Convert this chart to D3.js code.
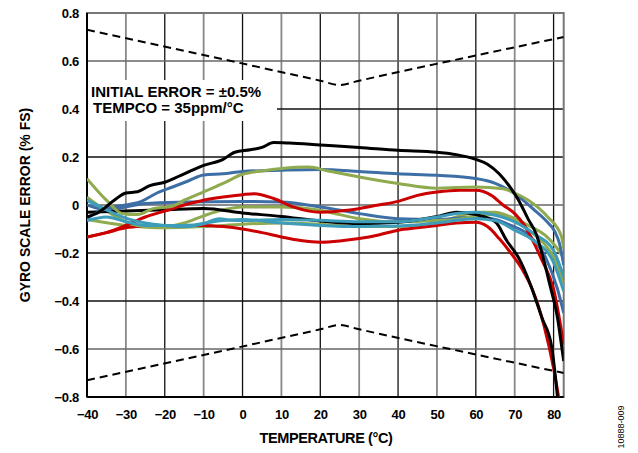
<!DOCTYPE html>
<html>
<head>
<meta charset="UTF-8">
<script src="https://cdnjs.cloudflare.com/ajax/libs/d3/7.8.5/d3.min.js"></script>
<style>
  body { margin: 0; background: #fff; }
  svg text { font-family: "Liberation Sans", Arial, sans-serif; }
</style>
</head>
<body>
<svg id="chart" width="638" height="453"></svg>
<script>
// ticks
const xTicks = [-40, -30, -20, -10, 0, 10, 20, 30, 40, 50, 60, 70, 80];
const yTicks = [-0.8, -0.6, -0.4, -0.2, 0, 0.2, 0.4, 0.6, 0.8];

// spec limits (initial error +/- tempco)
const limitUpper = [[-40, 0.73], [20, 0.518], [25, 0.5], [30, 0.518], [82.6, 0.70]];
const limitLower = [[-40, -0.73], [20, -0.518], [25, -0.5], [30, -0.518], [82.6, -0.70]];

// measured units, [temperature, error %FS]
const black1 = [[-40,-0.05],[-37,-0.03],[-33,0.02],[-30,0.05],[-27,0.055],[-24,0.08],[-20,0.095],[-15,0.13],[-10,0.165],[-5,0.19],[-2,0.22],[2,0.23],[5,0.24],[8,0.26],[12,0.258],[20,0.25],[30,0.24],[40,0.228],[50,0.22],[55,0.21],[60,0.19],[63,0.17],[66,0.13],[69,0.07],[71,0.02],[73.5,-0.06],[75.5,-0.12],[77,-0.2],[79,-0.33],[81,-0.47],[82,-0.58],[82.6,-0.65]];
const black2 = [[-40,-0.03],[-30,-0.025],[-20,-0.02],[-10,-0.015],[0,-0.033],[10,-0.048],[20,-0.067],[30,-0.078],[40,-0.072],[50,-0.048],[55,-0.03],[60,-0.04],[65,-0.07],[68,-0.15],[71,-0.22],[74,-0.33],[77,-0.47],[79.5,-0.59],[81,-0.8]];
const red1 = [[-40,-0.133],[-35,-0.115],[-30,-0.085],[-25,-0.05],[-20,-0.025],[-15,0.0],[-10,0.02],[-5,0.033],[0,0.043],[3,0.047],[8,0.027],[13,-0.008],[20,-0.03],[27,-0.022],[35,0.0],[40,0.015],[45,0.04],[50,0.054],[56,0.061],[60,0.061],[64,0.04],[67,0.0],[70,-0.036],[72.5,-0.085],[75,-0.16],[77,-0.23],[80,-0.35],[82.6,-0.58]];
const red2 = [[-40,-0.133],[-35,-0.115],[-30,-0.095],[-25,-0.088],[-20,-0.085],[-10,-0.085],[-5,-0.09],[0,-0.1],[5,-0.115],[10,-0.133],[15,-0.148],[20,-0.155],[25,-0.15],[30,-0.14],[35,-0.125],[40,-0.105],[45,-0.095],[50,-0.085],[55,-0.075],[60,-0.072],[63,-0.09],[66,-0.14],[69,-0.2],[72,-0.27],[74.5,-0.35],[77.5,-0.5],[80,-0.68],[81.3,-0.8]];
const blue1 = [[-40,-0.055],[-35,-0.014],[-30,0.0],[-26,0.015],[-22,0.05],[-18,0.075],[-14,0.1],[-10,0.125],[-5,0.13],[0,0.14],[10,0.145],[20,0.148],[30,0.14],[40,0.13],[50,0.124],[60,0.11],[65,0.09],[70,0.047],[75,-0.02],[78,-0.065],[80.3,-0.11],[81.5,-0.16],[82.6,-0.25]];
const blue2 = [[-40,0.0],[-35,-0.02],[-30,-0.008],[-25,0.006],[-15,0.012],[0,0.015],[10,0.012],[20,-0.008],[30,-0.036],[40,-0.057],[50,-0.06],[60,-0.05],[65,-0.06],[69,-0.085],[74,-0.13],[78,-0.22],[81,-0.35],[82.6,-0.45]];
const green1 = [[-40,0.11],[-35,0.02],[-31,-0.035],[-27,-0.04],[-23,-0.015],[-18,-0.005],[-15,0.02],[-10,0.055],[-5,0.09],[0,0.128],[5,0.142],[10,0.152],[17,0.158],[22,0.142],[30,0.117],[40,0.09],[50,0.07],[60,0.075],[67,0.068],[70,0.05],[73.5,0.02],[78.5,-0.05],[82,-0.13],[82.6,-0.18]];
const green2 = [[-40,0.033],[-35,-0.025],[-30,-0.07],[-25,-0.09],[-20,-0.09],[-15,-0.075],[-10,-0.045],[-5,-0.02],[0,-0.008],[10,-0.008],[20,-0.022],[25,-0.04],[30,-0.057],[40,-0.07],[50,-0.065],[55,-0.06],[60,-0.045],[65,-0.04],[70,-0.065],[74,-0.11],[78,-0.17],[81,-0.25],[82.6,-0.34]];
const green3 = [[-40,-0.06],[-30,-0.085],[-20,-0.095],[-10,-0.09],[0,-0.08],[10,-0.075],[20,-0.08],[30,-0.09],[40,-0.09],[50,-0.075],[55,-0.05],[60,-0.03],[65,-0.03],[69,-0.05],[73.5,-0.085],[77.8,-0.126],[80.3,-0.168],[82.6,-0.22]];
const cyan1 = [[-40,0.02],[-35,-0.02],[-30,-0.055],[-25,-0.075],[-20,-0.085],[-15,-0.09],[-10,-0.078],[-6,-0.057],[-3,-0.064],[0,-0.065],[10,-0.06],[20,-0.064],[30,-0.07],[40,-0.07],[50,-0.05],[55,-0.035],[60,-0.03],[65,-0.043],[70,-0.07],[75,-0.12],[80,-0.19],[82.6,-0.3]];
const cyan2 = [[-40,-0.065],[-35,-0.05],[-30,-0.07],[-25,-0.085],[-15,-0.085],[-5,-0.065],[0,-0.06],[10,-0.075],[20,-0.085],[30,-0.09],[40,-0.088],[50,-0.075],[60,-0.057],[65,-0.065],[70,-0.105],[75,-0.15],[80,-0.24],[82.6,-0.36]];

const series = [
  { data: green3, color: "#8faa4f" },
  { data: red2, color: "#cc0000" },
  { data: blue2, color: "#3d6ea5" },
  { data: green2, color: "#8faa4f" },
  { data: black2, color: "#000000" },
  { data: red1, color: "#cc0000" },
  { data: blue1, color: "#3d6ea5" },
  { data: green1, color: "#8faa4f" },
  { data: cyan2, color: "#3c9cba" },
  { data: cyan1, color: "#3c9cba" },
  { data: black1, color: "#000000" }
];

const svg = d3.select("#chart");
const plot = { left: 87, right: 563.7, top: 13, bottom: 397 };

const x = d3.scaleLinear().domain([-40, 82.6]).range([plot.left, plot.right]);
const y = d3.scaleLinear().domain([-0.8, 0.8]).range([plot.bottom, plot.top]);

const fmtY = d => d === 0 ? "0" : d3.format(".1f")(d).replace("-", "\u2212");
const fmtX = d => String(d).replace("-", "\u2212");

// grid
const grid = svg.append("g");
grid.selectAll("line.vx")
  .data(xTicks)
  .join("line")
  .attr("x1", d => x(d)).attr("x2", d => x(d))
  .attr("y1", plot.top).attr("y2", plot.bottom)
  .attr("stroke", d => (d / 10) % 2 === 0 ? "#111" : "#888")
  .attr("stroke-width", d => (d / 10) % 2 === 0 ? 1.3 : 1.8);
grid.selectAll("line.hy")
  .data(yTicks)
  .join("line")
  .attr("x1", plot.left).attr("x2", plot.right)
  .attr("y1", d => y(d)).attr("y2", d => y(d))
  .attr("stroke", d => (Math.abs(d) === 0 || Math.abs(d) === 0.6) ? "#666" : "#111")
  .attr("stroke-width", 1.3);

// annotation box
svg.append("rect")
  .attr("x", plot.left + 1).attr("y", 80)
  .attr("width", 189).attr("height", 41)
  .attr("fill", "#fff");
svg.append("text")
  .attr("x", 91).attr("y", 96.5)
  .attr("font-size", 15).attr("font-weight", "bold")
  .text("INITIAL ERROR = \u00b10.5%");
svg.append("text")
  .attr("x", 93).attr("y", 112.5)
  .attr("font-size", 15).attr("font-weight", "bold")
  .text("TEMPCO = 35ppm/\u00b0C");

// frame
svg.append("rect")
  .attr("x", plot.left).attr("y", plot.top)
  .attr("width", plot.right - plot.left).attr("height", plot.bottom - plot.top)
  .attr("fill", "none").attr("stroke", "#777").attr("stroke-width", 2);
svg.append("line")
  .attr("x1", plot.left).attr("x2", plot.left).attr("y1", plot.top).attr("y2", plot.bottom)
  .attr("stroke", "#000").attr("stroke-width", 2);
svg.append("line")
  .attr("x1", plot.left).attr("x2", plot.right).attr("y1", plot.bottom).attr("y2", plot.bottom)
  .attr("stroke", "#000").attr("stroke-width", 2);

const line = d3.line()
  .x(d => x(d[0]))
  .y(d => y(d[1]))
  .curve(d3.curveMonotoneX);

svg.append("clipPath").attr("id", "clip")
  .append("rect")
  .attr("x", plot.left).attr("y", plot.top)
  .attr("width", plot.right - plot.left).attr("height", plot.bottom - plot.top);

const marks = svg.append("g").attr("clip-path", "url(#clip)");

marks.selectAll("path.limit")
  .data([limitUpper, limitLower])
  .join("path")
  .attr("class", "limit")
  .attr("d", line)
  .attr("fill", "none")
  .attr("stroke", "#000")
  .attr("stroke-width", 2)
  .attr("stroke-dasharray", "8,5");

marks.selectAll("path.unit")
  .data(series)
  .join("path")
  .attr("class", "unit")
  .attr("d", d => line(d.data))
  .attr("fill", "none")
  .attr("stroke", d => d.color)
  .attr("stroke-width", 3)
  .attr("stroke-linejoin", "round");

// axes labels
const xAxis = d3.axisBottom(x).tickValues(xTicks).tickSize(0).tickPadding(13).tickFormat(fmtX);
const yAxis = d3.axisLeft(y).tickValues(yTicks).tickSize(0).tickPadding(8).tickFormat(fmtY);

const gx = svg.append("g").attr("transform", `translate(0,${plot.bottom})`).call(xAxis);
const gy = svg.append("g").attr("transform", `translate(${plot.left},0)`).call(yAxis);
[gx, gy].forEach(g => {
  g.select(".domain").remove();
  g.selectAll("text")
    .attr("font-family", "'DejaVu Sans', sans-serif")
    .attr("font-size", 13)
    .attr("font-weight", "bold")
    .attr("letter-spacing", "-0.3px")
    .attr("fill", "#000");
});

svg.append("text")
  .attr("x", 326).attr("y", 443)
  .attr("text-anchor", "middle")
  .attr("font-family", "'DejaVu Sans', sans-serif")
  .attr("font-size", 14.5).attr("font-weight", "bold")
  .attr("letter-spacing", "-0.4px")
  .text("TEMPERATURE (\u00b0C)");

svg.append("text")
  .attr("transform", "translate(30,205) rotate(-90)")
  .attr("text-anchor", "middle")
  .attr("font-family", "'DejaVu Sans', sans-serif")
  .attr("font-size", 14).attr("font-weight", "bold")
  .text("GYRO SCALE ERROR (% FS)");

svg.append("text")
  .attr("transform", "translate(624,427) rotate(-90)")
  .attr("text-anchor", "middle")
  .attr("font-size", 9)
  .text("10888-009");
</script>
</body>
</html>
